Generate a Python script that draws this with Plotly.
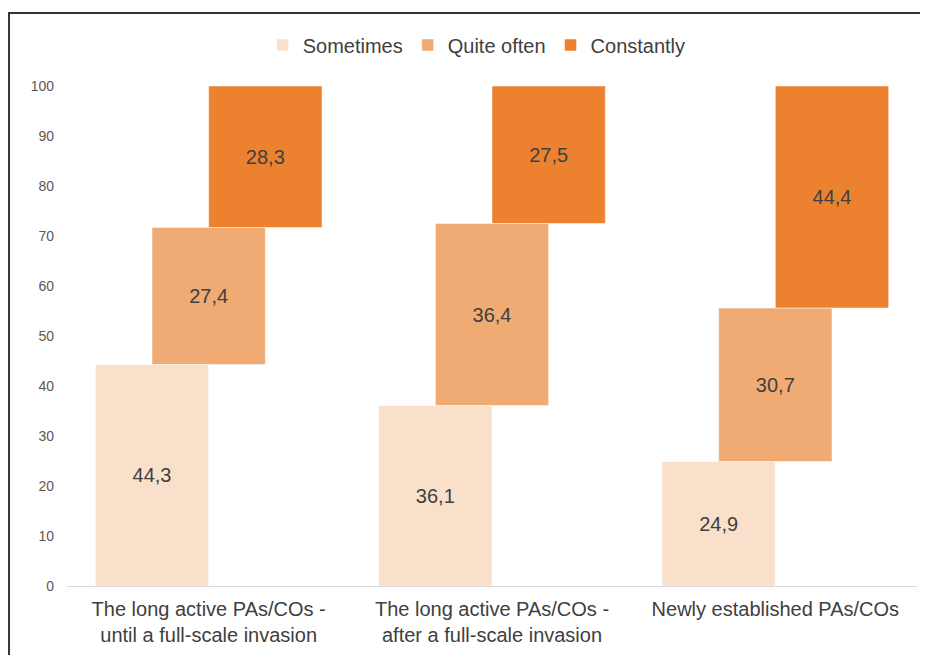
import plotly.graph_objects as go

# Datos
categorias = [
    "The long active PAs/COs -<br>until a full-scale invasion",
    "The long active PAs/COs -<br>after a full-scale invasion",
    "Newly established PAs/COs",
]
sometimes = [44.3, 36.1, 24.9]
quite_often = [27.4, 36.4, 30.7]
constantly = [28.3, 27.5, 44.4]

series = [
    ("Sometimes", sometimes, "#F9E0CB", -0.4),
    ("Quite often", quite_often, "#F0AB74", -0.2),
    ("Constantly", constantly, "#EC8130", 0.0),
]

fig = go.Figure()

# base acumulada: cada serie empieza donde termina la anterior
base = [0.0] * len(categorias)
for name, vals, color, off in series:
    fig.add_trace(go.Bar(
        x=categorias,
        y=vals,
        base=list(base),
        name=name,
        width=0.4,
        offset=off,
        marker=dict(color=color, line=dict(color="rgba(255,255,255,0.5)", width=1)),
        text=[f"{v:.1f}".replace(".", ",") for v in vals],
        textposition="inside",
        insidetextanchor="middle",
        textangle=0,
        textfont=dict(size=20, color="#404040"),
    ))
    base = [b + v for b, v in zip(base, vals)]

# Marco alrededor del gráfico
fig.add_shape(
    type="rect", xref="paper", yref="paper",
    x0=-0.0682, x1=1.2, y0=-0.3, y1=1.146,
    line=dict(color="#333333", width=2),
    fillcolor="rgba(0,0,0,0)",
)

fig.update_layout(
    width=920,
    height=647,
    barmode="overlay",
    plot_bgcolor="white",
    paper_bgcolor="white",
    font=dict(family="Liberation Sans, Arial, sans-serif", color="#404040"),
    margin=dict(l=59, r=11, t=78, b=69, autoexpand=False),
    showlegend=True,
    legend=dict(
        orientation="h",
        x=0.482, xanchor="center",
        y=1.082, yanchor="middle",
        font=dict(size=20, color="#404040"),
        itemwidth=30,
        traceorder="normal",
    ),
    xaxis=dict(
        showgrid=False,
        showline=True,
        linecolor="#D9D9D9",
        linewidth=1,
        ticks="",
        tickfont=dict(size=20, color="#404040"),
        ticklabelstandoff=5,
        automargin=False,
        range=[-0.5, 2.5],
    ),
    yaxis=dict(
        range=[0, 100],
        dtick=10,
        showgrid=False,
        zeroline=False,
        showline=False,
        tickfont=dict(size=14, color="#595959"),
        ticklabelstandoff=12,
        automargin=False,
    ),
)

fig.write_html("out.html")
